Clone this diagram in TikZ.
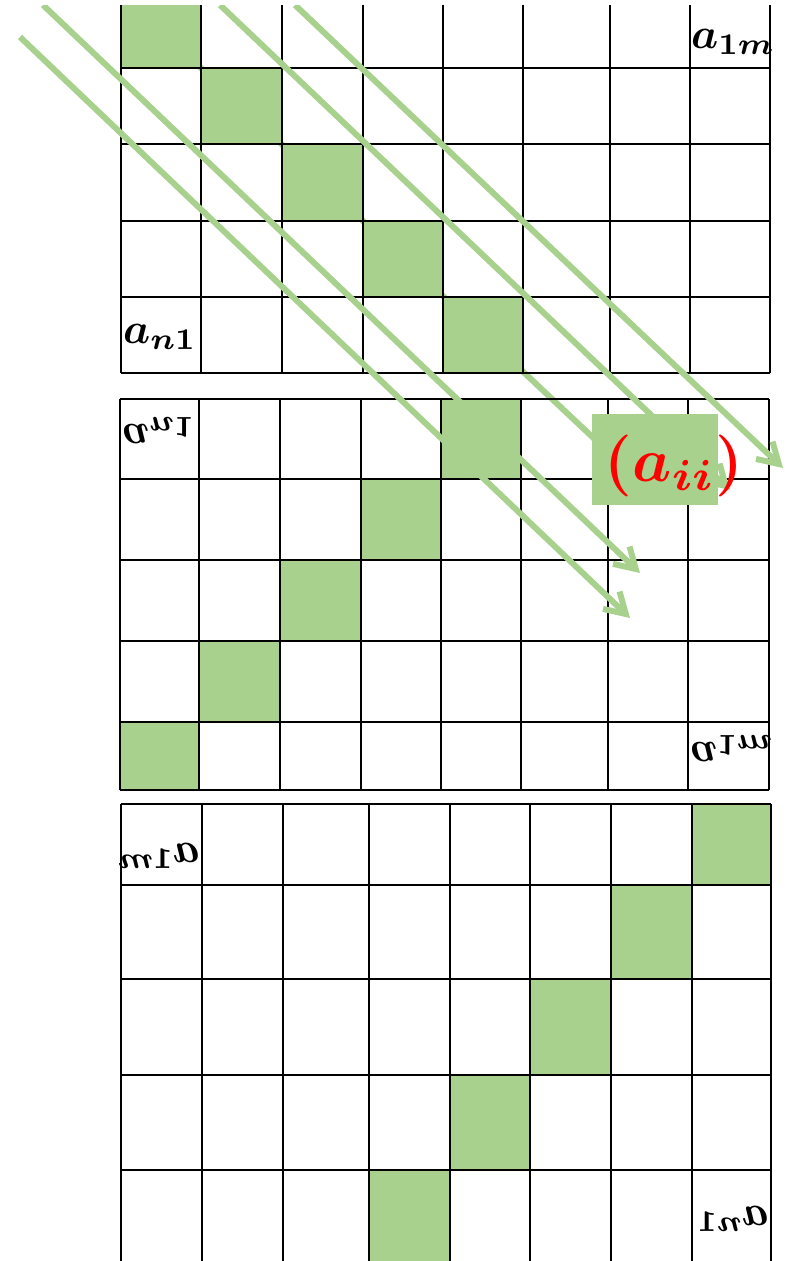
\documentclass[tikz,border=0pt]{standalone}
\usepackage{amsmath,bm}
\usetikzlibrary{arrows.meta}
\definecolor{lgreen}{RGB}{169,209,142}
\tikzset{
  gridline/.style={line width=2.2pt, black},
  cellfill/.style={fill=lgreen},
  flow/.style={draw=lgreen, line width=6pt, -{Straight Barb[length=20pt,width=24pt]}},
  lbl/.style={inner sep=0pt},
}
\newcommand{\lblsc}{4.3}
\begin{document}
\begin{tikzpicture}[x=1pt,y=-1pt]
\useasboundingbox (0,0) rectangle (789,1261);
\clip (0,5) rectangle (789,1261);
% hidden diagonal flow under grid 1
\coordinate (s5) at (134,5); \coordinate (e5) at (655,496);
\draw[flow] (s5) -- (e5);
% ---- grid 1
\foreach \a/\b/\c/\d in {121/5/201/68,201/68/282/144,282/144/363/221,363/221/443/297,443/297/523/373}
  \fill[cellfill] (\a,\b) rectangle (\c,\d);
\foreach \x in {121,201,282,363,443,523,610,690,770} \draw[gridline] (\x,5) -- (\x,373);
\foreach \y in {68,144,221,297,373} \draw[gridline] (121,\y) -- (770,\y);
\node[lbl, anchor=base west] (g1a) at (691,48) {\scalebox{\lblsc}{$\bm{a_{1m}}$}};
\node[lbl, anchor=base west] (g1b) at (123,343) {\scalebox{\lblsc}{$\bm{a_{n1}}$}};
% ---- grid 2
\foreach \a/\b/\c/\d in {441/399/521/479,361/479/441/560,280/560/361/641,199/641/280/722,120/722/199/790}
  \fill[cellfill] (\a,\b) rectangle (\c,\d);
\foreach \x in {120,199,280,361,441,521,608,688,769} \draw[gridline] (\x,399) -- (\x,790);
\foreach \y in {399,479,560,641,722,790} \draw[gridline] (120,\y) -- (769,\y);
\node[lbl, anchor=base west] (g2a) at (122,424) {\scalebox{\lblsc}[-\lblsc]{$\bm{a_{n1}}$}};
\node[lbl, anchor=base west] (g2b) at (690,742) {\scalebox{\lblsc}[-\lblsc]{$\bm{a_{1m}}$}};
% ---- grid 3
\foreach \a/\b/\c/\d in {692/804/771/885,611/885/692/979,530/979/611/1075,450/1075/530/1170,369/1170/450/1262}
  \fill[cellfill] (\a,\b) rectangle (\c,\d);
\foreach \x in {121,202,283,369,450,530,611,692,771} \draw[gridline] (\x,804) -- (\x,1262);
\foreach \y in {804,885,979,1075,1170} \draw[gridline] (121,\y) -- (771,\y);
\node[lbl, anchor=base east] (g3a) at (200,862) {\scalebox{-\lblsc}[\lblsc]{$\bm{a_{1m}}$}};
\node[lbl, anchor=base east] (g3b) at (769,1225) {\scalebox{-\lblsc}[\lblsc]{$\bm{a_{n1}}$}};
% ---- flows
\coordinate (s1) at (20,37);  \coordinate (e1) at (630,618);
\coordinate (s2) at (43,5);   \coordinate (e2) at (640,573);
\coordinate (s3) at (220,5);  \coordinate (e3) at (730,490);
\coordinate (s4) at (295,5);  \coordinate (e4) at (783,468);
\draw[flow] (s1) -- (e1);
\draw[flow] (s2) -- (e2);
\draw[flow] (s3) -- (e3);
\draw[flow] (s4) -- (e4);
% ---- label box
\node[fill=lgreen, minimum width=126pt, minimum height=91pt, inner sep=0pt] (box) at (655,459.5) {};
\node[inner sep=0pt, text=red] (aii) at (674,466) {\scalebox{6.2}{$\bm{(a_{ii})}$}};
\end{tikzpicture}
\end{document}
